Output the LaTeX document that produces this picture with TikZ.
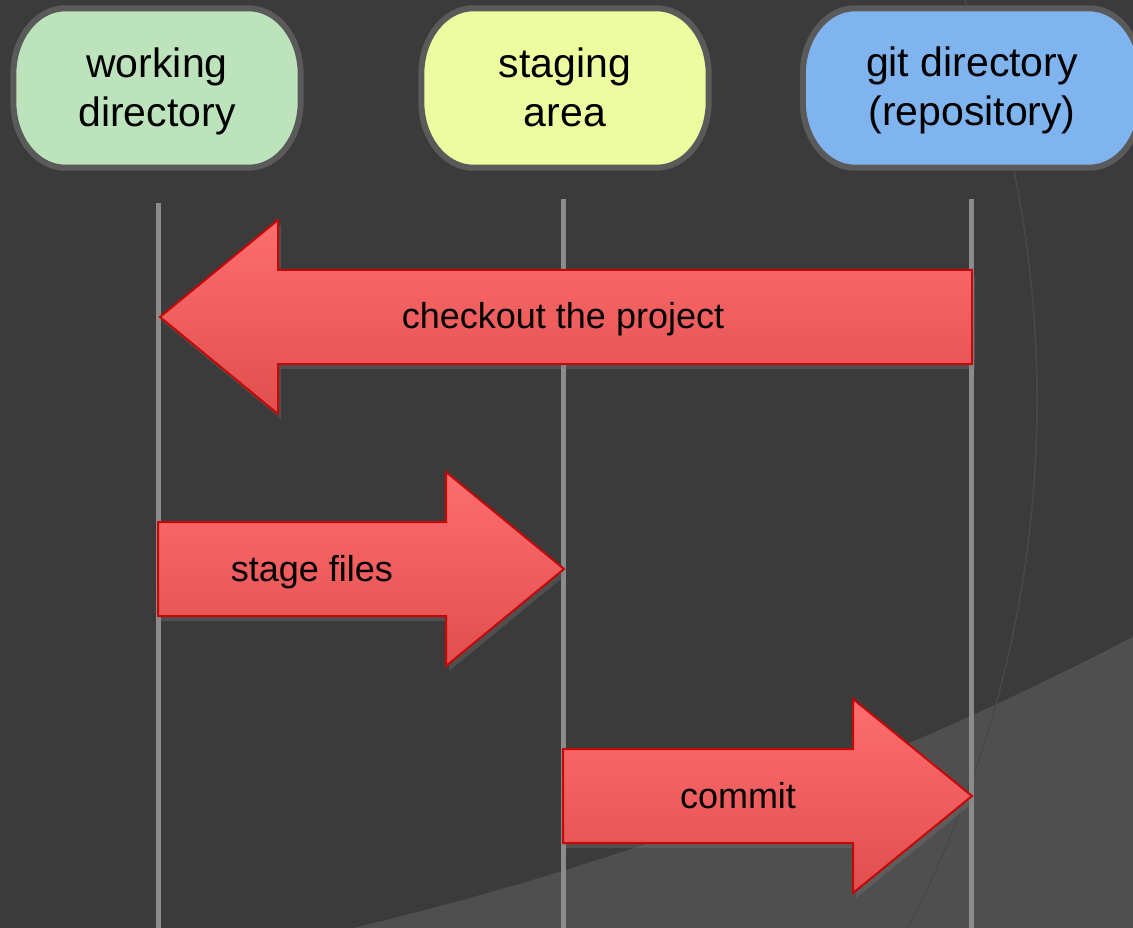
\documentclass[tikz,border=0pt]{standalone}
\usepackage{fontspec}
\setmainfont{Liberation Sans}
\usetikzlibrary{shadows}
\definecolor{bgdark}{HTML}{3B3B3B}
\definecolor{bglight}{HTML}{4F4F4F}
\definecolor{arcgray}{HTML}{484848}
\definecolor{lanegray}{HTML}{8C8C8C}
\definecolor{boxborder}{HTML}{5A5A5A}
\definecolor{wdgreen}{HTML}{BDE3BD}
\definecolor{sayellow}{HTML}{EEFCA0}
\definecolor{gitblue}{HTML}{80B4EE}
\definecolor{arrowtop}{HTML}{FF6E6E}
\definecolor{arrowbottom}{HTML}{E04E4E}
\definecolor{arrowborder}{HTML}{C40808}
\newcommand{\drawcapsule}[2]{%
  \draw[capsuleline,fill=#2] ([xshift=52pt]#1.north west) -- ([xshift=-52pt]#1.north east)
    arc[start angle=90,end angle=0,x radius=52pt,y radius=66pt]
    -- ([yshift=66pt]#1.south east)
    arc[start angle=0,end angle=-90,x radius=52pt,y radius=66pt]
    -- ([xshift=52pt]#1.south west)
    arc[start angle=270,end angle=180,x radius=52pt,y radius=66pt]
    -- ([yshift=-66pt]#1.north west)
    arc[start angle=180,end angle=90,x radius=52pt,y radius=66pt] -- cycle;}
\begin{document}
\begin{tikzpicture}[x=1pt,y=-1pt,
  lane/.style={draw=lanegray,line width=5pt},
  stagebox/.style={minimum width=287pt,minimum height=159pt,inner sep=0pt},
  capsuleline/.style={draw=boxborder,line width=6pt},
  boxlabel/.style={align=center,font=\fontsize{41}{49}\selectfont,
    text=black,inner sep=0pt},
  blockarrow/.style={draw=arrowborder,line width=2pt,top color=arrowtop,
    bottom color=arrowbottom,
    drop shadow={opacity=0.3,shadow xshift=3pt,shadow yshift=-5pt}},
  arrowlabel/.style={font=\fontsize{36}{43}\selectfont,text=black,
    text height=26pt,text depth=8pt}]
\clip (0,0) rectangle (1133,928);
% background
\fill[bgdark] (0,0) rectangle (1133,928);
\fill[bglight,even odd rule] (0,0) rectangle (1133,928) (-447,-2405) circle (3427);
\draw[arcgray,line width=1.5pt] (-103,400) circle (1140);
% stage boxes
\node[stagebox] (wd) at (157,88) {};
\node[stagebox] (sa) at (565,88) {};
\node[stagebox,minimum width=338pt] (gd) at (972,88) {};
\drawcapsule{wd}{wdgreen}
\drawcapsule{sa}{sayellow}
\drawcapsule{gd}{gitblue}
\node[boxlabel] (wdtext) at (157,92.5) {\strut working\\directory\strut};
\node[boxlabel] (satext) at (565,92.5) {\strut staging\\area\strut};
\node[boxlabel] (gdtext) at (972,91.5) {\strut git directory\\(repository)\strut};
% lanes
\coordinate (wdtop) at (158,203);
\coordinate (wdbot) at (158,928);
\coordinate (satop) at (563,199);
\coordinate (sabot) at (563,928);
\coordinate (gdtop) at (971,199);
\coordinate (gdbot) at (971,928);
\draw[lane] (wdtop) -- (wdbot);
\draw[lane] (satop) -- (sabot);
\draw[lane] (gdtop) -- (gdbot);
% arrows
\path[blockarrow] (972,270) -- (278,270) -- (278,220) -- (160,317)
  -- (278,414) -- (278,364) -- (972,364) -- cycle;
\node[arrowlabel] (co) at (563,319) {checkout the project};
\path[blockarrow] (158,522) -- (446,522) -- (446,472) -- (564,569)
  -- (446,666) -- (446,616) -- (158,616) -- cycle;
\node[arrowlabel] (sf) at (312,572) {stage files};
\path[blockarrow] (563,749) -- (853,749) -- (853,699) -- (972,796)
  -- (853,893) -- (853,843) -- (563,843) -- cycle;
\node[arrowlabel] (cm) at (738,799) {commit};
\end{tikzpicture}
\end{document}
